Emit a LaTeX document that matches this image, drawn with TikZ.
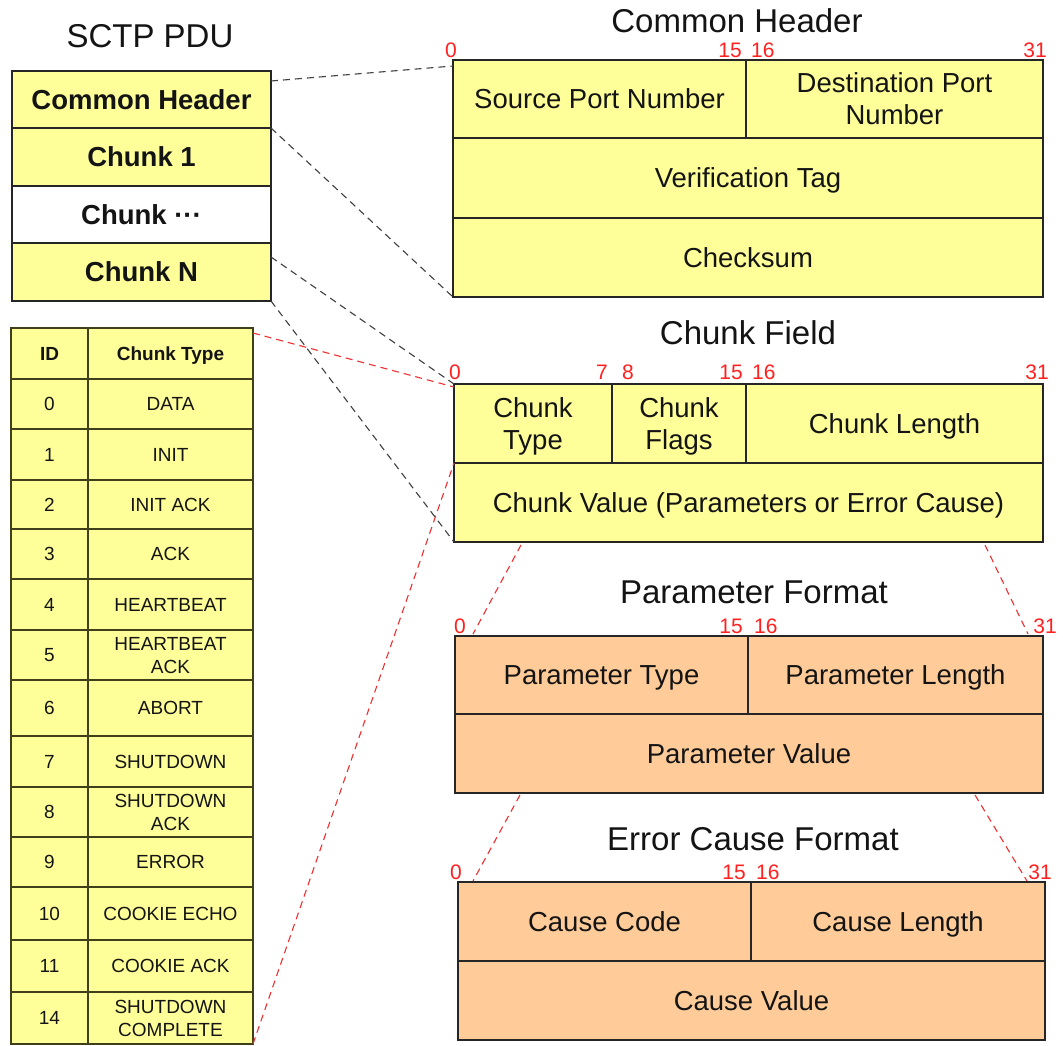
\documentclass[tikz,border=0pt]{standalone}
\usepackage{fontspec}
\setmainfont{Liberation Sans}
\usetikzlibrary{calc}
\definecolor{fieldyellow}{HTML}{FFFF99}
\definecolor{fieldorange}{HTML}{FFCC99}
\definecolor{bitred}{HTML}{FF2020}
\definecolor{tableline}{HTML}{3F3F1A}
\definecolor{linkgray}{HTML}{404040}
\definecolor{linkred}{HTML}{F03030}
\definecolor{ink}{HTML}{141414}
\newcommand\fsz[2]{\fontsize{#1pt}{#2pt}\selectfont}
% \fieldcell{name}{style}{x1}{y1}{x2}{y2}{text}
\newcommand\fieldcell[7]{\node[#2, minimum width={(#5-#3)*1pt}, minimum height={(#6-#4)*1pt}] (#1) at (#3,#4) {#7};}
\begin{document}
\begin{tikzpicture}[x=1pt,y=-1pt,
  base/.style={inner sep=0pt, outer sep=0pt, anchor=north west, align=center, line width=1.3pt, text=ink, text depth=0pt},
  pdufield/.style={base, draw=black!85, fill=fieldyellow, font=\bfseries\fsz{27.5}{31}},
  yfield/.style={base, draw=black!85, fill=fieldyellow, font=\fsz{27.5}{32}},
  ofield/.style={base, draw=black!85, fill=fieldorange, font=\fsz{27.5}{32}},
  tcell/.style={base, draw=tableline, fill=fieldyellow, font=\fsz{19}{23}},
  thead/.style={tcell, font=\bfseries\fsz{19}{23}},
  title/.style={inner sep=0pt, anchor=base, text=ink, font=\fsz{33}{38}},
  bit/.style={inner sep=0pt, text=bitred, font=\fsz{21}{24}},
  link/.style={draw=linkgray, line width=1.1pt, dash pattern=on 7pt off 5pt},
  redlink/.style={draw=linkred, line width=1.1pt, dash pattern=on 7pt off 5pt}]
\clip (0,0) rectangle (1063,1045);
\fill[white] (0,0) rectangle (1063,1045);

% ---- SCTP PDU stack ----
\node[title] (pdutitle) at (150,47) {SCTP PDU};
\fieldcell{pduhead}{pdufield}{12}{71}{271}{128}{Common Header}
\fieldcell{pduone}{pdufield}{12}{128}{271}{186}{Chunk 1}
\fieldcell{pdudots}{pdufield, fill=white}{12}{186}{271}{243}{Chunk ···}
\fieldcell{pdun}{pdufield}{12}{243}{271}{301}{Chunk N}

% ---- chunk type table ----
\fieldcell{idh}{thead}{11}{328}{88}{379}{ID}
\fieldcell{tyh}{thead}{88}{328}{253}{379}{Chunk Type}
\fieldcell{ida}{tcell}{11}{379}{88}{429}{0}
\fieldcell{tya}{tcell}{88}{379}{253}{429}{DATA}
\fieldcell{idb}{tcell}{11}{429}{88}{480}{1}
\fieldcell{tyb}{tcell}{88}{429}{253}{480}{INIT}
\fieldcell{idc}{tcell}{11}{480}{88}{529}{2}
\fieldcell{tyc}{tcell}{88}{480}{253}{529}{INIT ACK}
\fieldcell{idd}{tcell}{11}{529}{88}{579}{3}
\fieldcell{tyd}{tcell}{88}{529}{253}{579}{ACK}
\fieldcell{ide}{tcell}{11}{579}{88}{630}{4}
\fieldcell{tye}{tcell}{88}{579}{253}{630}{HEARTBEAT}
\fieldcell{idf}{tcell}{11}{630}{88}{680}{5}
\fieldcell{tyf}{tcell}{88}{630}{253}{680}{HEARTBEAT\\ACK}
\fieldcell{idg}{tcell}{11}{680}{88}{736}{6}
\fieldcell{tyg}{tcell}{88}{680}{253}{736}{ABORT}
\fieldcell{idh7}{tcell}{11}{736}{88}{787}{7}
\fieldcell{tyh7}{tcell}{88}{736}{253}{787}{SHUTDOWN}
\fieldcell{idi}{tcell}{11}{787}{88}{837}{8}
\fieldcell{tyi}{tcell}{88}{787}{253}{837}{SHUTDOWN\\ACK}
\fieldcell{idj}{tcell}{11}{837}{88}{887}{9}
\fieldcell{tyj}{tcell}{88}{837}{253}{887}{ERROR}
\fieldcell{idk}{tcell}{11}{887}{88}{940}{10}
\fieldcell{tyk}{tcell}{88}{887}{253}{940}{COOKIE ECHO}
\fieldcell{idl}{tcell}{11}{940}{88}{992}{11}
\fieldcell{tyl}{tcell}{88}{940}{253}{992}{COOKIE ACK}
\fieldcell{idm}{tcell}{11}{992}{88}{1044}{14}
\fieldcell{tym}{tcell}{88}{992}{253}{1044}{SHUTDOWN\\COMPLETE}

% ---- Common Header ----
\node[title] (chtitle) at (737,32) {Common Header};
\node[bit, anchor=base] (chb0) at (451,57) {0};
\node[bit, anchor=base east] (chb15) at (742,57) {15};
\node[bit, anchor=base west] (chb16) at (751,57) {16};
\node[bit, anchor=base east] (chb31) at (1047,57) {31};
\fieldcell{sp}{yfield}{453}{60}{746}{138}{Source Port Number}
\fieldcell{dp}{yfield}{746}{60}{1043}{138}{Destination Port\\Number}
\fieldcell{vt}{yfield}{453}{138}{1043}{218}{Verification Tag}
\fieldcell{cs}{yfield}{453}{218}{1043}{297}{Checksum}

% ---- Chunk Field ----
\node[title] (cftitle) at (748,344) {Chunk Field};
\node[bit, anchor=base] (cfb0) at (455,379) {0};
\node[bit, anchor=base] (cfb7) at (602,379) {7};
\node[bit, anchor=base] (cfb8) at (628,379) {8};
\node[bit, anchor=base east] (cfb15) at (743,379) {15};
\node[bit, anchor=base west] (cfb16) at (752,379) {16};
\node[bit, anchor=base east] (cfb31) at (1049,379) {31};
\fieldcell{ct}{yfield}{454}{384}{612}{463}{Chunk\\Type}
\fieldcell{cf}{yfield}{612}{384}{746}{463}{Chunk\\Flags}
\fieldcell{chlen}{yfield}{746}{384}{1043}{463}{Chunk Length}
\fieldcell{cv}{yfield}{454}{463}{1043}{542}{Chunk Value (Parameters or Error Cause)}

% ---- Parameter Format ----
\node[title] (pftitle) at (754,603) {Parameter Format};
\node[bit, anchor=base] (pfb0) at (460,633) {0};
\node[bit, anchor=base east] (pfb15) at (743,633) {15};
\node[bit, anchor=base west] (pfb16) at (754,633) {16};
\node[bit, anchor=base] (pfb31) at (1045,633) {31};
\fieldcell{pt}{ofield}{455}{636}{748}{714}{Parameter Type}
\fieldcell{pl}{ofield}{748}{636}{1043}{714}{Parameter Length}
\fieldcell{pv}{ofield}{455}{714}{1043}{793}{Parameter Value}

% ---- Error Cause Format ----
\node[title] (eftitle) at (753,850) {Error Cause Format};
\node[bit, anchor=base] (efb0) at (456,879) {0};
\node[bit, anchor=base east] (efb15) at (746,879) {15};
\node[bit, anchor=base west] (efb16) at (756,879) {16};
\node[bit, anchor=base] (efb31) at (1040,879) {31};
\fieldcell{cc}{ofield}{458}{882}{751}{961}{Cause Code}
\fieldcell{cclen}{ofield}{751}{882}{1045}{961}{Cause Length}
\fieldcell{cval}{ofield}{458}{961}{1045}{1040}{Cause Value}

% ---- zoom connectors ----
\draw[link] ([yshift=-10pt]pduhead.north east) -- ([yshift=-6pt]sp.north west);
\draw[link] (pduhead.south east) -- (cs.south west);
\draw[link] ([yshift=-14pt]pdun.north east) -- (ct.north west);
\draw[link] (pdun.south east) -- (cv.south west);
\draw[redlink] ([yshift=-5pt]tyh.north east) -- ([yshift=-3pt]ct.north west);
\draw[redlink] (tym.south east) -- (cv.north west);
\draw[redlink] ($(cv.south west)+(67,3)$) -- ($(pt.north west)+(18,-2)$);
\draw[redlink] ($(cv.south east)+(-58,3)$) -- ($(pl.north east)+(-15,-2)$);
\draw[redlink] ($(pv.south west)+(65,2)$) -- ($(cc.north west)+(15,-1)$);
\draw[redlink] ($(pv.south east)+(-68,2)$) -- ($(cclen.north east)+(-18,-1)$);
\end{tikzpicture}
\end{document}
